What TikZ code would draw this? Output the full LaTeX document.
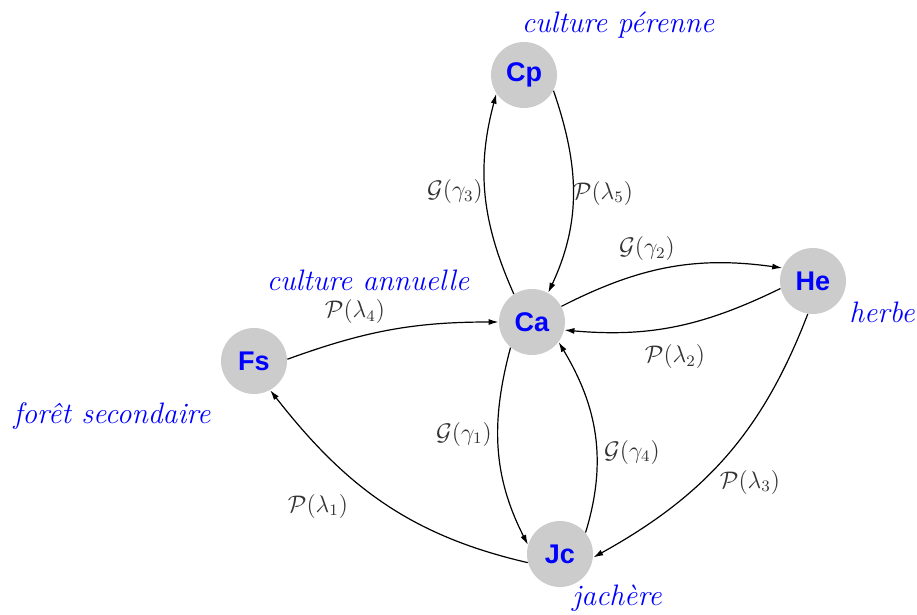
\documentclass[tikz,border=0pt]{standalone}
\usepackage{fontspec}
\newfontfamily\nodefont{Liberation Sans}
\usetikzlibrary{arrows.meta}
\definecolor{nodegray}{HTML}{CCCCCC}
\definecolor{labgray}{HTML}{333333}
\tikzset{
  state/.style={circle, fill=nodegray, minimum size=33pt, inner sep=0pt,
    text=blue, font=\nodefont\bfseries\fontsize{13.5}{15}\selectfont},
  name label/.style={text=blue, font=\fontsize{14.8}{17}\selectfont\itshape, inner sep=0pt},
  edge label/.style={text=labgray, font=\fontsize{12}{14}\selectfont, inner sep=0pt},
  trans/.style={draw, line width=0.6pt, -{Latex[length=5pt,width=3pt]}},
}
\begin{document}
\begin{tikzpicture}[x=0.5pt,y=-0.5pt]
\useasboundingbox (0,0) rectangle (917,615);
\node[state] (Cp) at (524,75) {Cp};
\node[state] (Ca) at (532,322) {Ca};
\node[state] (He) at (813,281) {He};
\node[state] (Fs) at (254,361) {Fs};
\node[state] (Jc) at (560,554) {Jc};

\node[name label] (lCp) at (618,25) {culture pérenne};
\node[name label] (lCa) at (368,280) {culture annuelle};
\node[name label] (lHe) at (882,312) {herbe};
\node[name label] (lFs) at (112,416) {forêt secondaire};
\node[name label] (lJc) at (617,598) {jachère};

\draw[trans] (Ca.123) to[out=114,in=-105] (Cp.214);
\draw[trans] (Cp.-28) to[out=-71,in=65] (Ca.61);
\draw[trans] (Ca.28) to[out=27,in=172] (He.157);
\draw[trans] (He.-167) to[out=206,in=-5] (Ca.-14);
\draw[trans] (Fs.3) to[out=20,in=180] (Ca.180);
\draw[trans] (Jc.195) to[out=167,in=-52] (Fs.-61);
\draw[trans] (Ca.-130) to[out=-105,in=117] (Jc.164);
\draw[trans] (Jc.40) to[out=73,in=-59] (Ca.-37);
\draw[trans] (He.-99) to[out=-111,in=29] (Jc.-6);

\node[edge label] (e1) at (455,192) {$\mathcal{G}(\gamma_3)$};
\node[edge label] (e2) at (603,193) {$\mathcal{P}(\lambda_5)$};
\node[edge label] (e3) at (647,249) {$\mathcal{G}(\gamma_2)$};
\node[edge label] (e4) at (675,357) {$\mathcal{P}(\lambda_2)$};
\node[edge label] (e5) at (355,312) {$\mathcal{P}(\lambda_4)$};
\node[edge label] (e6) at (464,434) {$\mathcal{G}(\gamma_1)$};
\node[edge label] (e7) at (632,452) {$\mathcal{G}(\gamma_4)$};
\node[edge label] (e8) at (750,482) {$\mathcal{P}(\lambda_3)$};
\node[edge label] (e9) at (318,506) {$\mathcal{P}(\lambda_1)$};
\end{tikzpicture}
\end{document}
